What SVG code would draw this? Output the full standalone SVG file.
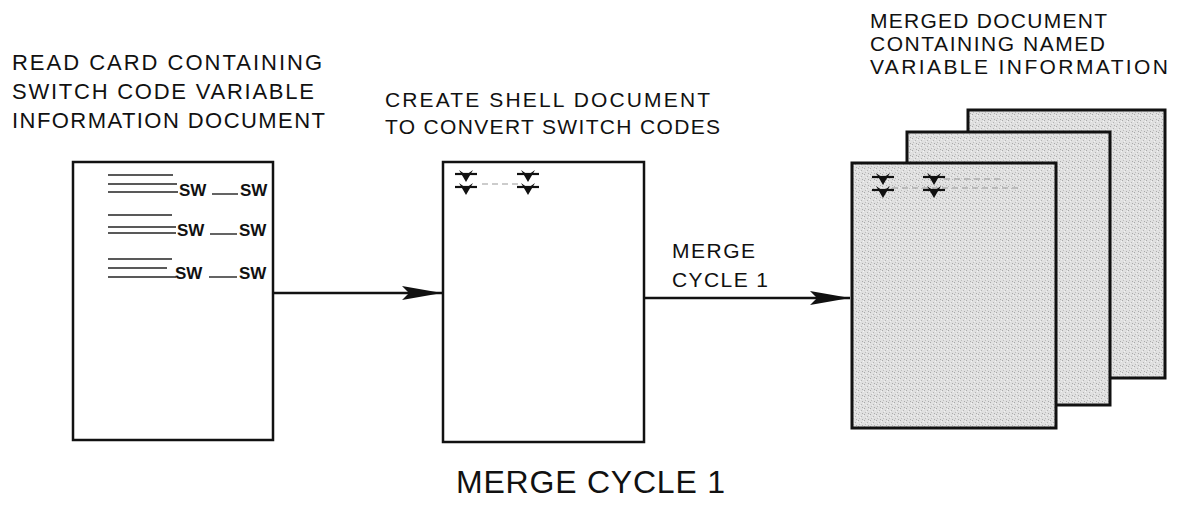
<svg xmlns="http://www.w3.org/2000/svg" xmlns:xlink="http://www.w3.org/1999/xlink" width="1178" height="506" viewBox="0 0 1178 506">
<style>
text{font-family:"Liberation Sans",Arial,sans-serif;fill:#111}
.lbl{font-size:22px}
.lbm{font-size:21px}
.lbr{font-size:21px}
.sw{font-size:17px;font-weight:bold}
.doc{fill:#fff;stroke:#111;stroke-width:2.5}
.sheet{fill:url(#stip);stroke:#111;stroke-width:3}
.rule{stroke:#222;stroke-width:1.4}
.faint{stroke:#999;stroke-width:1;stroke-dasharray:6 4}
.conn{stroke:#111;stroke-width:2.5;fill:none}
</style>
<defs>
<pattern id="stip" patternUnits="userSpaceOnUse" width="6" height="6">
<rect width="6" height="6" fill="#e0e0e0"/>
<rect x="0" y="0" width="1" height="1" fill="#a8a8a8"/>
<rect x="3" y="2" width="1" height="1" fill="#b4b4b4"/>
<rect x="1" y="4" width="1" height="1" fill="#bcbcbc"/>
<rect x="4" y="5" width="1" height="1" fill="#aaaaaa"/>
<rect x="5" y="1" width="1" height="1" fill="#f4f4f4"/>
<rect x="2" y="3" width="1" height="1" fill="#f0f0f0"/>
</pattern>
<marker id="ah" markerUnits="userSpaceOnUse" viewBox="0 0 40 14" refX="40" refY="7" markerWidth="40" markerHeight="14" orient="auto">
<path d="M0,0 L40,7 L0,14 L7,7 Z" fill="#111"/>
</marker>
<g id="sym">
<path d="M-7,-6 L0,6 L7,-6 L0,-1 Z" fill="#111"/>
<line x1="-11" y1="-2" x2="11" y2="-2" stroke="#111" stroke-width="2.2"/>
</g>
</defs>
<rect width="1178" height="506" fill="#fff"/>

<g id="label-read">
<text class="lbl" x="12" y="70" textLength="310" lengthAdjust="spacing">READ CARD CONTAINING</text>
<text class="lbl" x="12" y="99" textLength="302" lengthAdjust="spacing">SWITCH CODE VARIABLE</text>
<text class="lbl" x="12" y="128" textLength="313" lengthAdjust="spacing">INFORMATION DOCUMENT</text>
</g>

<g id="node-card">
<rect class="doc" x="73" y="162" width="200" height="278"/>
<line class="rule" x1="108" y1="175" x2="173" y2="175"/>
<line class="rule" x1="108" y1="184" x2="177" y2="184"/>
<line class="rule" x1="108" y1="192" x2="178" y2="192"/>
<text class="sw" x="179" y="196">SW</text>
<line class="rule" x1="212" y1="194" x2="238" y2="194"/>
<text class="sw" x="240" y="196">SW</text>
<line class="rule" x1="108" y1="215" x2="172" y2="215"/>
<line class="rule" x1="108" y1="227" x2="176" y2="227"/>
<line class="rule" x1="108" y1="233" x2="176" y2="233"/>
<text class="sw" x="177" y="236">SW</text>
<line class="rule" x1="210" y1="234" x2="237" y2="234"/>
<text class="sw" x="239" y="236">SW</text>
<line class="rule" x1="108" y1="259" x2="172" y2="259"/>
<line class="rule" x1="108" y1="268" x2="167" y2="268"/>
<line class="rule" x1="108" y1="277" x2="176" y2="277"/>
<text class="sw" x="175" y="279">SW</text>
<line class="rule" x1="209" y1="277" x2="237" y2="277"/>
<text class="sw" x="239" y="279">SW</text>
</g>

<g id="label-shell">
<text class="lbm" x="385" y="107" textLength="325" lengthAdjust="spacing">CREATE SHELL DOCUMENT</text>
<text class="lbm" x="385" y="134" textLength="335" lengthAdjust="spacing">TO CONVERT SWITCH CODES</text>
</g>

<g id="node-shell">
<rect class="doc" x="443" y="162" width="201" height="280"/>
<line class="faint" x1="482" y1="184" x2="518" y2="184"/>
<use xlink:href="#sym" x="466" y="176"/>
<use xlink:href="#sym" x="528" y="176"/>
<use xlink:href="#sym" x="466" y="189"/>
<use xlink:href="#sym" x="528" y="189"/>
</g>

<g id="label-merged">
<text class="lbr" x="870" y="28" textLength="237" lengthAdjust="spacing">MERGED DOCUMENT</text>
<text class="lbr" x="870" y="51" textLength="235" lengthAdjust="spacing">CONTAINING NAMED</text>
<text class="lbr" x="870" y="74" textLength="298" lengthAdjust="spacing">VARIABLE INFORMATION</text>
</g>

<g id="node-merged">
<rect class="sheet" x="968" y="110" width="197" height="268"/>
<rect class="sheet" x="907" y="132" width="203" height="273"/>
<rect class="sheet" x="852" y="163" width="204" height="265"/>
<line class="faint" x1="944" y1="179" x2="1002" y2="179"/>
<line class="faint" x1="892" y1="188" x2="1020" y2="188"/>
<use xlink:href="#sym" x="883" y="179"/>
<use xlink:href="#sym" x="934" y="179"/>
<use xlink:href="#sym" x="883" y="192"/>
<use xlink:href="#sym" x="934" y="192"/>
</g>

<g id="connectors">
<line class="conn" x1="273" y1="293" x2="442" y2="293" marker-end="url(#ah)"/>
<line class="conn" x1="644" y1="298" x2="850" y2="298" marker-end="url(#ah)"/>
</g>

<g id="label-merge-cycle">
<text x="672" y="258" font-size="21" textLength="83" lengthAdjust="spacing">MERGE</text>
<text x="672" y="287" font-size="21" textLength="96" lengthAdjust="spacing">CYCLE 1</text>
</g>

<g id="title">
<text x="456" y="493" font-size="32" textLength="269" lengthAdjust="spacing">MERGE CYCLE 1</text>
</g>
</svg>
